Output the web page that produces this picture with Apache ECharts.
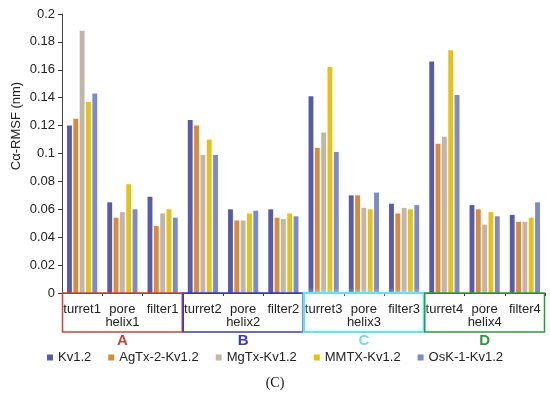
<!DOCTYPE html>
<html>
<head>
<meta charset="utf-8">
<script src="https://cdn.jsdelivr.net/npm/echarts@6/dist/echarts.min.js"></script>
<style>html,body{margin:0;padding:0;background:#fff;}#c{width:550px;height:396px;}</style>
</head>
<body>
<div id="c"></div>
<script>
var categories = ['turret1','pore helix1','filter1','turret2','pore helix2','filter2','turret3','pore helix3','filter3','turret4','pore helix4','filter4'];
var seriesNames = ['Kv1.2','AgTx-2-Kv1.2','MgTx-Kv1.2','MMTX-Kv1.2','OsK-1-Kv1.2'];
var kv12   = [0.120,0.065,0.069,0.124,0.060,0.060,0.141,0.070,0.064,0.166,0.063,0.056];
var agtx2  = [0.125,0.054,0.048,0.120,0.052,0.054,0.104,0.070,0.057,0.107,0.060,0.051];
var mgtx   = [0.188,0.058,0.057,0.099,0.052,0.053,0.115,0.061,0.061,0.112,0.049,0.051];
var mmtx   = [0.137,0.078,0.060,0.110,0.057,0.057,0.162,0.060,0.060,0.174,0.058,0.054];
var osk1   = [0.143,0.060,0.054,0.099,0.059,0.055,0.101,0.072,0.063,0.142,0.055,0.065];
var yTicks = [0,0.02,0.04,0.06,0.08,0.1,0.12,0.14,0.16,0.18,0.2];
var groupLetters = ['A','B','C','D'];
var groupColors = ['#C8453A','#3838C8','#6FDDEB','#2F9A3C'];
var seriesColors = ['#5A5BA6','#DA8A3B','#C3B6A9','#E4C11B','#7A8BC7'];

var allData = [kv12, agtx2, mgtx, mmtx, osk1];
var chart = echarts.init(document.getElementById('c'), null, {renderer:'canvas'});
var font = 'Liberation Sans, Arial, sans-serif';
var option = {
  animation: false,
  backgroundColor: '#fff',
  color: seriesColors,
  grid: {left: 62, right: 5, top: 14, bottom: 103, containLabel: false},
  legend: {
    bottom: 27, left: 'center', icon: 'rect', itemWidth: 6, itemHeight: 6, itemGap: 17,
    textStyle: {fontFamily: font, fontSize: 13, color: '#222'},
    data: seriesNames
  },
  xAxis: {
    type: 'category', data: categories,
    axisLine: {show: true, lineStyle: {color: '#444', width: 1}},
    axisTick: {show: true, length: 3, lineStyle: {color: '#333'}},
    axisLabel: {interval: 0, fontFamily: font, fontSize: 13, color: '#222', margin: 10, lineHeight: 13,
      formatter: function(v){ return v.replace(' ', '\n'); }}
  },
  yAxis: {
    type: 'value', min: 0, max: 0.2, interval: 0.02,
    axisLine: {show: true, lineStyle: {color: '#444', width: 1}},
    axisTick: {show: true, length: 4, lineStyle: {color: '#333'}},
    splitLine: {show: false},
    axisLabel: {fontFamily: font, fontSize: 13, color: '#222', margin: 7,
      formatter: function(v){ var s = String(Math.round(v*100)/100); return s; }}
  },
  series: seriesNames.map(function(n, i){
    return {name: n, type: 'bar', data: allData[i], barGap: '30%', barCategoryGap: '25%'};
  })
};
chart.setOption(option);

var c0 = chart.convertToPixel({xAxisIndex: 0}, 0);
var c1 = chart.convertToPixel({xAxisIndex: 0}, 1);
var band = c1 - c0;
var y0 = chart.convertToPixel({yAxisIndex: 0}, 0);
var graphics = [];
for (var g = 0; g < 4; g++) {
  var left = chart.convertToPixel({xAxisIndex: 0}, g*3) - band/2;
  var right = chart.convertToPixel({xAxisIndex: 0}, g*3+2) + band/2;
  var isC = g === 2;
  graphics.push({
    type: 'rect', shape: {x: left+0.5, y: y0, width: right-left-1, height: 39},
    style: {fill: 'none', stroke: groupColors[g], lineWidth: isC ? 2 : 1.5,
      shadowBlur: isC ? 4 : 0, shadowColor: isC ? '#BDF4FA' : 'transparent'},
    z: 10
  });
  graphics.push({
    type: 'text', x: (left+right)/2, y: y0 + 48,
    style: {text: groupLetters[g], fill: groupColors[g], font: 'bold 15px ' + font, align: 'center', verticalAlign: 'middle'},
    z: 10
  });
}
graphics.push({
  type: 'text', x: 16, y: 126, rotation: Math.PI/2,
  style: {text: 'C\u03b1-RMSF (nm)', fill: '#222', font: '13px ' + font, align: 'center', verticalAlign: 'middle'}
});
graphics.push({
  type: 'text', x: 275, y: 383,
  style: {text: '(C)', fill: '#111', font: '14px Liberation Serif, Times New Roman, serif', align: 'center', verticalAlign: 'middle'}
});
chart.setOption({graphic: graphics});
</script>
</body>
</html>
